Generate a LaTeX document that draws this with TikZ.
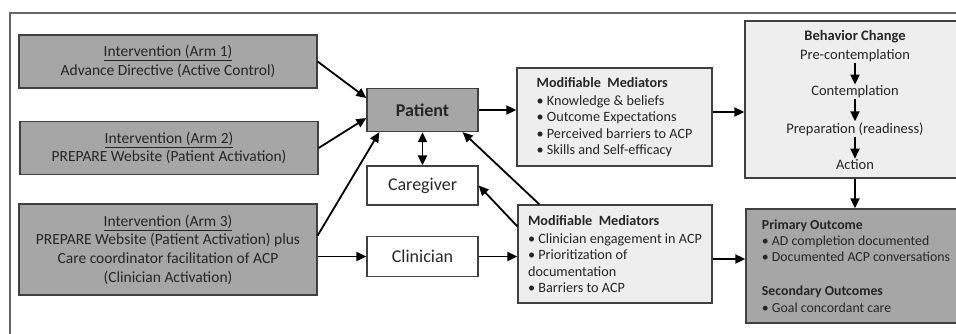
\documentclass[tikz,border=0pt]{standalone}
\usepackage{fontspec}
\setmainfont{Carlito}
\usetikzlibrary{arrows.meta}
\definecolor{boxdark}{RGB}{166,166,166}
\definecolor{boxlight}{RGB}{238,238,238}
\definecolor{edge}{RGB}{64,64,64}
\definecolor{ink}{RGB}{38,38,38}
\begin{document}
\begin{tikzpicture}[x=1pt,y=-1pt,>={Triangle[length=10pt,width=9pt]},
	arm/.style={draw=edge,line width=1.3pt,fill=boxdark,text=ink,minimum width=298pt,align=center,font=\fontsize{15.5}{18.6}\selectfont},
	actor/.style={draw=edge,line width=1.3pt,text=ink,minimum width=111pt,font=\fontsize{18}{21}\selectfont},
	medbox/.style={draw=edge,line width=1.3pt,fill=boxlight,text=ink,minimum width=195pt,minimum height=98pt,align=left,font=\fontsize{14.2}{16.4}\selectfont},
	stage/.style={text=ink,inner sep=1pt,font=\fontsize{14.5}{17}\selectfont},
	link/.style={->,line width=1.8pt,draw=black}]
	\useasboundingbox (0,0) rectangle (956,333);
	\draw[draw=edge!80,line width=1.2pt] (10,345) -- (10,13) -- (970,13);
	% interventions
	\node[arm,minimum height=53pt] (arm1) at (168,61.5) {\underline{Intervention (Arm 1)}\\Advance Directive (Active Control)};
	\node[arm,minimum height=53pt] (arm2) at (169,148) {\underline{Intervention (Arm 2)}\\PREPARE Website (Patient Activation)};
	\node[arm,minimum height=91pt] (arm3) at (168,249.5) {\underline{Intervention (Arm 3)}\\PREPARE Website (Patient Activation) plus\\Care coordinator facilitation of ACP\\(Clinician Activation)};
	% actors
	\node[actor,fill=boxdark,minimum height=43pt,font=\fontsize{18}{21}\selectfont\bfseries] (patient) at (422.5,110) {Patient};
	\node[actor,minimum height=39pt] (caregiver) at (422.5,185.5) {Caregiver};
	\node[actor,minimum height=40pt] (clinician) at (422.5,256.5) {Clinician};
	% mediators
	\node[medbox] (med1) at (614.5,117) {\textbf{Modifiable\ \ Mediators}\\[1.5pt]\textbullet{} Knowledge \& beliefs\\\textbullet{} Outcome Expectations\\\textbullet{} Perceived barriers to ACP\\\textbullet{} Skills and Self-efficacy};
	\node[medbox,minimum width=194pt] (med2) at (615,254) {\textbf{Modifiable\ \ Mediators}\\[1.5pt]\textbullet{} Clinician engagement in ACP\\\textbullet{} Prioritization of\\documentation\\\textbullet{} Barriers to ACP};
	% behavior change
	\node[draw=edge,line width=1.3pt,fill=boxlight,minimum width=220pt,minimum height=157pt] (behav) at (855,99.5) {};
	\node[stage,font=\fontsize{14.5}{17}\selectfont\bfseries] (btitle) at (855,37) {Behavior Change};
	\node[stage] (pre) at (855,56) {Pre-contemplation};
	\node[stage] (cont) at (855,92) {Contemplation};
	\node[stage] (prep) at (855,129) {Preparation (readiness)};
	\node[stage] (act) at (855,165) {Action};
	% outcomes
	\node[draw=edge,line width=1.3pt,fill=boxdark,text=ink,minimum width=220pt,minimum height=114pt,align=left,font=\fontsize{13.8}{16.2}\selectfont] (outcome) at (856,266) {\textbf{Primary Outcome}\\\textbullet{} AD completion documented\\\textbullet{} Documented ACP conversations\\[18pt]\textbf{Secondary Outcomes}\\\textbullet{} Goal concordant care};
	% connectors
	\coordinate (m1out) at ([yshift=5pt]med1.east);
	\coordinate (m2out) at ([yshift=-5pt]med2.east);
	\draw[link] (arm1.east) -- ([yshift=12pt]patient.west);
	\draw[link] (arm2.east) -- ([yshift=-8pt]patient.west);
	\draw[link] ([yshift=14pt]arm3.east) -- ([xshift=13pt]patient.south west);
	\draw[link] (arm3.east |- clinician.west) -- (clinician.west);
	\draw[link,<->] (patient) -- (caregiver);
	\draw[link] (patient.east) -- (patient.east -| med1.west);
	\draw[link] ([xshift=22pt]med2.north west) -- ([xshift=-16pt]patient.south east);
	\draw[link] ([yshift=-22pt]med2.north west) -- (caregiver.east);
	\draw[link] (clinician.east) -- (clinician.east -| med2.west);
	\draw[link] (m1out) -- (m1out -| behav.west);
	\draw[link] (m2out) -- (m2out -| outcome.west);
	\draw[link] (behav.south) -- (behav.south |- outcome.north);
	\draw[link] (pre) -- (cont);
	\draw[link] (cont) -- (prep);
	\draw[link] (prep) -- (act);
\end{tikzpicture}
\end{document}
